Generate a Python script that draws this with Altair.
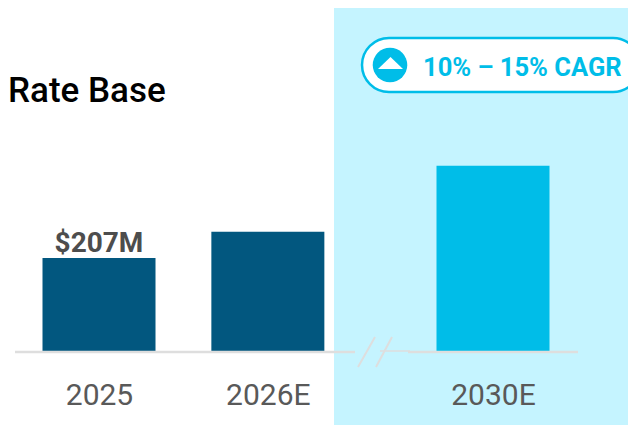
import altair as alt
import pandas as pd

categories = ["2025", "2026E", "2030E"]
slots = ["2025", " 1", " 2", "2026E", " 3", " 4", " 5", "2030E"]
values = [207, 265, 412]
bar_colors = ["#02577F", "#02577F", "#00BDE8"]
labels = ["$207M", "", ""]
title_text = "Rate Base"
cagr_text = "10% – 15% CAGR"
FONT = "Roboto"

df = pd.DataFrame({"cat": categories, "v": values, "c": bar_colors, "l": labels})
one = alt.Data(values=[{"a": 1}])
O = 8  # page margin


def X(p):
    return alt.value(p - O)


def Y(p):
    return alt.value(p - O)


x_scale = alt.Scale(type="point", domain=slots, range=[99 - O, 493 - O], padding=0)
y_scale = alt.Scale(domain=[0, 763], range=[343, 0])
x = alt.X("cat:N", scale=x_scale, title=None,
          axis=alt.Axis(values=categories, labelAngle=0, domain=False, ticks=False, grid=False, labelPadding=29,
                        labelFontSize=30, labelFont=FONT, labelColor="#595959", zindex=2,
                        labelBaseline="top"))
y = alt.Y("v:Q", scale=y_scale, axis=None)

bg = alt.Chart(one).mark_rect(color="#C5F4FF").encode(x=X(334), x2=X(640), y=Y(4), y2=Y(430))


def rule(x1, y1, x2, y2, w=2):
    return alt.Chart(one).mark_rule(color="#DEDEDE", strokeWidth=w).encode(
        x=X(x1), x2=X(x2), y=Y(y1), y2=Y(y2))


rules = [rule(15, 352, 355, 352, 2.5), rule(380, 351, 410, 351, 1.5), rule(408, 352, 578, 352, 2.5),
         rule(358, 367, 375, 337, 2), rule(376, 367, 392, 337, 2)]

bars = alt.Chart(df).mark_bar(size=113).encode(x=x, y=y, color=alt.Color("c:N", scale=None))
val = alt.Chart(df).mark_text(font=FONT, fontSize=28, fontWeight="bold", color="#4D4D4D",
                              baseline="bottom", dy=0).encode(x=x, y=y, text="l:N")

title = alt.Chart(one).mark_text(text=title_text, font="Roboto", fontSize=35, fontWeight=500, align="left",
                                 baseline="middle", color="#000000").encode(x=X(8), y=Y(91))
pill = alt.Chart(one).mark_rect(fill="#FFFFFF", stroke="#00BDE8", strokeWidth=2.5, cornerRadius=27).encode(
    x=X(362), x2=X(640), y=Y(38), y2=Y(92))
circle = alt.Chart(one).mark_point(shape="circle", filled=True, color="#00BDE8", opacity=1, size=1195).encode(
    x=X(390), y=Y(65))
tri = alt.Chart(one).mark_point(shape="M-1,0.48L0,-0.48L1,0.48Z", filled=True, color="#FFFFFF", opacity=1,
                                size=625).encode(x=X(390.5), y=Y(63))
cagr = alt.Chart(one).mark_text(text=cagr_text, font=FONT, fontSize=25.5, fontWeight="bold", align="left",
                                baseline="middle", color="#00BDE8").encode(x=X(423), y=Y(68))

chart = alt.layer(bg, bars, *rules, val, title, pill, circle, tri, cagr).properties(
    width=620, height=343,
    padding={"left": 0, "top": 0, "right": 0, "bottom": 74},
    autosize=alt.AutoSizeParams(type="none"),
).configure_view(stroke=None)

chart.save("out.html", embed_options={"renderer": "svg", "actions": False})
